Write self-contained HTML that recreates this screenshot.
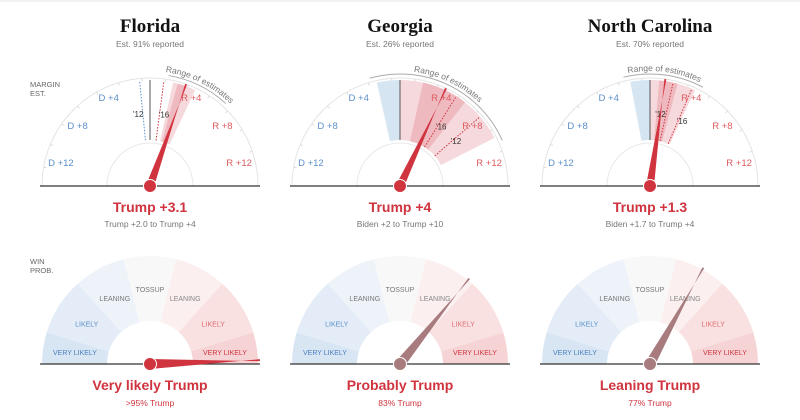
<!DOCTYPE html>
<html><head><meta charset="utf-8"><style>
html,body{margin:0;padding:0;background:#fff;width:800px;height:420px;overflow:hidden}
svg{display:block}
text{font-family:"Liberation Sans",sans-serif}
</style></head><body>
<svg id="s" width="800" height="420" viewBox="0 0 800 420" xmlns="http://www.w3.org/2000/svg">
<line x1="0" y1="1" x2="800" y2="1" stroke="#e6e6e6"/>
<text x="30" y="87" font-size="7.5" fill="#666">MARGIN</text>
<text x="30" y="96" font-size="7.5" fill="#666">EST.</text>
<text x="30" y="264" font-size="7.5" fill="#666">WIN</text>
<text x="30" y="273" font-size="7.5" fill="#666">PROB.</text>
</svg>
<script>
var S=document.getElementById('s'),NS='http://www.w3.org/2000/svg';
function el(t,a,txt){var e=document.createElementNS(NS,t);for(var k in a)e.setAttribute(k,a[k]);if(txt!=null)e.textContent=txt;S.appendChild(e);return e;}
function P(cx,cy,r,d){var a=d*Math.PI/180;return [cx+r*Math.sin(a),cy-r*Math.cos(a)];}
function wedge(cx,cy,r1,r2,a1,a2,fill){var p1=P(cx,cy,r2,a1),p2=P(cx,cy,r2,a2),p3=P(cx,cy,r1,a2),p4=P(cx,cy,r1,a1);var L=(a2-a1)>180?1:0;
el('path',{d:'M'+p1+' A'+r2+' '+r2+' 0 '+L+' 1 '+p2+' L'+p3+' A'+r1+' '+r1+' 0 '+L+' 0 '+p4+'Z',fill:fill});}
function arc(cx,cy,r,a1,a2,st,w,id){var p1=P(cx,cy,r,a1),p2=P(cx,cy,r,a2);var o={d:'M'+p1+' A'+r+' '+r+' 0 0 1 '+p2,fill:'none',stroke:st,'stroke-width':w};if(id)o.id=id;return el('path',o);}
function needle(cx,cy,ang,len,col,w){var t=P(cx,cy,len,ang),b1=P(cx,cy,w,ang-90),b2=P(cx,cy,w,ang+90),t1=P(t[0]-cx+cx,t[1],0,0);
var tp1=[t[0]+Math.cos(ang*Math.PI/180)*1,t[1]+Math.sin(ang*Math.PI/180)*1],tp2=[t[0]-Math.cos(ang*Math.PI/180)*1,t[1]-Math.sin(ang*Math.PI/180)*1];
el('path',{d:'M'+b1+' L'+tp1+' L'+tp2+' L'+b2+'Z',fill:col});el('circle',{cx:cx,cy:cy,r:6.5,fill:col,stroke:'#fff','stroke-width':1});}
var K=6.3;
var st=[
{cx:150,name:'Florida',rep:'Est. 91% reported',res:'Trump +3.1',sub:'Trump +2.0 to Trump +4',lo:2,hi:4,m:3.1,y12:-0.9,y16:1.2,wp:'Very likely Trump',wps:'>95% Trump',wa:88,wc:'#d0343f'},
{cx:400,name:'Georgia',rep:'Est. 26% reported',res:'Trump +4',sub:'Biden +2 to Trump +10',lo:-2,hi:10,m:4,y12:7.8,y16:5.1,wp:'Probably Trump',wps:'83% Trump',wa:39,wc:'#a87c7f'},
{cx:650,name:'North Carolina',rep:'Est. 70% reported',res:'Trump +1.3',sub:'Biden +1.7 to Trump +4',lo:-1.7,hi:4,m:1.3,y12:2.0,y16:3.7,wp:'Leaning Trump',wps:'77% Trump',wa:29,wc:'#a87c7f'}];
st.forEach(function(s,i){var cx=s.cx,cy=186;
el('text',{x:cx,y:32,'text-anchor':'middle','font-size':19,'font-weight':'bold','font-family':'Liberation Serif',fill:'#121212',style:'font-family:"Liberation Serif",serif'},s.name);
el('text',{x:cx,y:47,'text-anchor':'middle','font-size':8.5,fill:'#777'},s.rep);
// top gauge
arc(cx,cy,108,-90,90,'#e4e4e4',1);
arc(cx,cy,43,-90,90,'#e8e8e8',1);
for(var a=-80;a<=80;a+=12.6){var q1=P(cx,cy,108,a),q2=P(cx,cy,105,a);el('line',{x1:q1[0],y1:q1[1],x2:q2[0],y2:q2[1],stroke:'#ddd'});}
var lo=s.lo*K,hi=s.hi*K,mid=(lo+hi)/2;
if(lo<0){wedge(cx,cy,46,106,lo,0,'#d6e5f2');wedge(cx,cy,46,106,0,hi,'#f6d9dc');}
else wedge(cx,cy,46,106,lo,hi,'#f6d9dc');
var il=Math.max(lo,0)+(hi-Math.max(lo,0))*0.2,ih=Math.max(lo,0)+(hi-Math.max(lo,0))*0.6;
wedge(cx,cy,46,106,il,ih,'#eeb9bf');
var v1=P(cx,cy,46,0),v2=P(cx,cy,106,0);el('line',{x1:v1[0],y1:v1[1],x2:v2[0],y2:v2[1],stroke:'#555','stroke-width':1});
[[s.y12,"'12"],[s.y16,"'16"]].forEach(function(h){var a=h[0]*K,c=h[0]<0?'#5b8fc9':'#d0343f';var q1=P(cx,cy,46,a),q2=P(cx,cy,106,a);
el('line',{x1:q1[0],y1:q1[1],x2:q2[0],y2:q2[1],stroke:c,'stroke-width':1,'stroke-dasharray':'1.5,1.5'});
var t=P(cx,cy,70,a+(h[1]=="'12"&&i!=1?-4:4));el('text',{x:t[0],y:t[1],'text-anchor':'middle','font-size':8,fill:'#333'},h[1]);});
var ra=Math.max(lo-3,-30),rb=Math.max(hi+3,lo+30);
arc(cx,cy,112,ra,rb,'#aaa',1);
var rc=(ra+rb)/2;arc(cx,cy,115,rc-40,rc+40,'none',0,'rp'+i);
var tx=el('text',{'font-size':8.5,fill:'#777'});var tp=document.createElementNS(NS,'textPath');tp.setAttribute('href','#rp'+i);tp.setAttribute('startOffset','50%');tp.setAttribute('text-anchor','middle');tp.textContent='Range of estimates';tx.appendChild(tp);
[[-4,'D +4'],[-8,'D +8'],[-12,'D +12'],[4,'R +4'],[8,'R +8'],[12,'R +12']].forEach(function(l){var a=l[0]*K,r=Math.abs(l[0])==4?97:(Math.abs(l[0])==8?94:92);var t=P(cx,cy,r,a);
el('text',{x:t[0],y:t[1]+3,'text-anchor':'middle','font-size':9.5,fill:l[0]<0?'#5b8fc9':'#de5a5f'},l[1]);});
el('line',{x1:cx-110,y1:cy,x2:cx+110,y2:cy,stroke:'#333','stroke-width':1.3});
needle(cx,cy,s.m*K,108,'#d0343f',4);
el('text',{x:cx,y:212,'text-anchor':'middle','font-size':14,'font-weight':'bold',fill:'#d0343f'},s.res);
el('text',{x:cx,y:227,'text-anchor':'middle','font-size':8.5,fill:'#777'},s.sub);
// bottom gauge
var by=364,segs=[[-90,-73,'#d8e5f3','VERY LIKELY','#4a7fc0'],[-73,-42,'#e3ecf7','LIKELY','#5b8fc9'],[-42,-14,'#eef3fa','LEANING','#777'],[-14,14,'#f8f8f8','TOSSUP','#777'],[14,42,'#fcefef','LEANING','#888'],[42,73,'#f9e1e1','LIKELY','#de6a6f'],[73,90,'#f6d4d5','VERY LIKELY','#d0343f']];
segs.forEach(function(g){wedge(cx,by,43,108,g[0],g[1],g[2]);var m=(g[0]+g[1])/2;var r=75;var t=P(cx,by,r,m);if(Math.abs(m)>80){t=[cx+(m<0?-75:75),by-12];}
el('text',{x:t[0],y:t[1]+3,'text-anchor':'middle','font-size':7,fill:g[4]},g[3]);});
el('line',{x1:cx-110,y1:by,x2:cx+110,y2:by,stroke:'#333','stroke-width':1.3});
needle(cx,by,s.wa,110,s.wc,5);
el('text',{x:cx,y:390,'text-anchor':'middle','font-size':14,'font-weight':'bold',fill:'#d0343f'},s.wp);
el('text',{x:cx,y:406,'text-anchor':'middle','font-size':8.5,fill:'#d0343f'},s.wps);
});
</script>
</body></html>
